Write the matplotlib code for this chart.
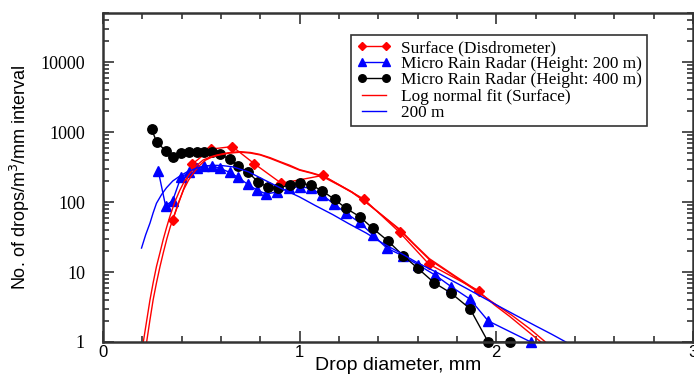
import numpy as np
import matplotlib
matplotlib.use('Agg')
import matplotlib.pyplot as plt
from matplotlib.ticker import FixedLocator, MultipleLocator, LogLocator, NullFormatter

# surface disdrometer
surf_d = [0.354, 0.455, 0.547, 0.658, 0.768, 0.907, 1.118, 1.327, 1.508, 1.657, 1.910]
surf_n = [55, 350, 570, 620, 355, 185, 240, 110, 37, 13, 5.4]

# MRR 200 m
mrr200_d = [0.281, 0.318, 0.354, 0.396, 0.437, 0.476, 0.514, 0.555, 0.594, 0.645, 0.687,
            0.735, 0.781, 0.831, 0.887, 0.946, 1.0, 1.056, 1.115, 1.174, 1.234, 1.305,
            1.372, 1.443, 1.525, 1.604, 1.690, 1.770, 1.866, 1.959, 2.176]
mrr200_n = [280, 89, 104, 225, 265, 303, 330, 330, 303, 265, 225,
            180, 149, 130, 140, 157, 166, 157, 126, 94, 70, 51,
            34, 22, 17, 12.6, 9.0, 6.2, 4.1, 2.0, 1.0]

# MRR 400 m
mrr400_d = [0.247, 0.273, 0.318, 0.357, 0.396, 0.437, 0.476, 0.514, 0.555, 0.594, 0.645,
            0.687, 0.738, 0.788, 0.839, 0.890, 0.949, 1.0, 1.059, 1.115, 1.178, 1.237,
            1.305, 1.372, 1.448, 1.528, 1.601, 1.685, 1.770, 1.866, 1.959, 2.07]
mrr400_n = [1100, 720, 540, 445, 505, 520, 520, 520, 520, 485, 408,
            330, 265, 195, 162, 158, 175, 185, 175, 144, 109, 81,
            62, 42, 28, 17, 11.3, 7.0, 5.0, 3.0, 1.0, 1.0]

# log normal fit (surface)
fit_d = [0.205, 0.222, 0.239, 0.255, 0.272, 0.29, 0.306, 0.323, 0.340, 0.365, 0.391, 0.415,
         0.442, 0.475, 0.509, 0.545, 0.577, 0.635, 0.695, 0.75, 0.797, 0.85, 0.898, 0.95,
         1.0, 1.06, 1.118, 1.203, 1.265, 1.327, 1.41, 1.508, 1.58, 1.66, 1.79, 1.914,
         2.0, 2.08, 2.17, 2.25]
fit_n = [1, 2, 4, 7, 12, 19, 29, 43, 62, 100, 148, 200,
         257, 330, 398, 440, 468, 505, 525, 510, 480, 430, 380, 335,
         290, 262, 235, 175, 140, 105, 68, 40, 25, 15, 8.6, 5,
         3.4, 2.4, 1.55, 1]
fit2_d = [0.222, 0.238, 0.255, 0.272, 0.29, 0.307, 0.325, 0.342, 0.36, 0.385, 0.41, 0.435,
          0.46, 0.49, 0.52, 0.555, 0.59, 0.645, 0.70, 0.75, 0.80, 0.85, 0.90, 0.95,
          1.0, 1.06, 1.118, 1.203, 1.265, 1.327, 1.41, 1.508, 1.58, 1.66, 1.79, 1.914,
          1.99, 2.07, 2.15, 2.227]
fit2_n = [1, 2, 4, 7, 12, 19, 30, 44, 62, 100, 150, 205,
          260, 330, 395, 440, 470, 500, 515, 500, 470, 420, 370, 325,
          285, 258, 230, 172, 138, 104, 68, 41, 25.5, 15.5, 8.8, 5.2,
          3.4, 2.3, 1.5, 1]

# fit 200 m
fit200_d = [0.196, 0.217, 0.239, 0.255, 0.272, 0.298, 0.323, 0.355, 0.391, 0.43, 0.476,
            0.51, 0.55, 0.60, 0.661, 0.74, 0.831, 0.91, 1.0, 1.08, 1.169, 1.25, 1.339,
            1.42, 1.508, 1.60, 1.70, 1.85, 2.0, 2.1, 2.2, 2.28, 2.354]
fit200_n = [22, 34, 50, 70, 96, 128, 160, 200, 235, 272, 305,
            322, 335, 333, 318, 270, 200, 155, 118, 89, 66, 49, 36,
            26, 19, 13.5, 9.8, 5.8, 3.4, 2.4, 1.7, 1.3, 1]

fig = plt.figure(figsize=(6.94, 3.75), dpi=100)
ax = fig.add_axes([0.1484, 0.088, 0.85, 0.877])

ax.plot(surf_d, surf_n, '-', color='red', marker='D', ms=5, lw=1, clip_on=False,
        label='Surface (Disdrometer)')
ax.plot(mrr200_d, mrr200_n, '-', color='blue', marker='^', ms=6.5, lw=1, clip_on=False,
        label='Micro Rain Radar (Height: 200 m)')
ax.plot(mrr400_d, mrr400_n, '-', color='black', marker='o', ms=6.8, lw=1, clip_on=False,
        label='Micro Rain Radar (Height: 400 m)')
ax.plot(fit_d, fit_n, '-', color='red', lw=1, label='Log normal fit (Surface)')
ax.plot(fit2_d, fit2_n, '-', color='red', lw=1)
ax.plot(fit200_d, fit200_n, '-', color='blue', lw=1, label='200 m')

ax.set_yscale('log')
ax.set_xlim(0, 3)
ax.set_ylim(1, 5e4)

xt = [0, 1, 2, 3]
ax.xaxis.set_major_locator(FixedLocator(xt))
ax.xaxis.set_minor_locator(MultipleLocator(0.2))
ax.set_xticklabels([str(v) for v in xt], family='Liberation Sans', fontsize=12)
yt = [1, 10, 100, 1000, 10000]
ax.yaxis.set_major_locator(FixedLocator(yt))
ax.set_yticklabels([str(v) for v in yt], family='Liberation Serif', fontsize=13)
ax.yaxis.set_minor_locator(LogLocator(base=10, subs=np.arange(2, 10)))
ax.yaxis.set_minor_formatter(NullFormatter())

ax.tick_params(which='both', direction='in', top=True, right=True, width=1.2, color='#333333')
ax.tick_params(which='major', length=8)
ax.tick_params(which='minor', length=4)
ax.tick_params(axis='x', which='major', pad=2)
ax.tick_params(axis='y', which='major', pad=13)
for s in ax.spines.values():
    s.set_linewidth(1.8)
    s.set_color('#333333')

ax.set_xlabel('Drop diameter, mm', family='Liberation Sans', fontsize=14, labelpad=-2)
ax.set_ylabel('No. of drops/m$^3$/mm interval', family='Liberation Sans', fontsize=13, labelpad=6)

leg = ax.legend(loc='upper left', bbox_to_anchor=(0.421, 0.933), borderaxespad=0, numpoints=2,
                prop={'family': 'Liberation Serif', 'size': 12.4}, fancybox=False,
                edgecolor='#333333', framealpha=1, handlelength=2.0, handletextpad=0.6,
                labelspacing=0.0, borderpad=0.3, markerscale=0.8)
leg.get_frame().set_linewidth(1.2)

fig.savefig('out.png', dpi=100)
